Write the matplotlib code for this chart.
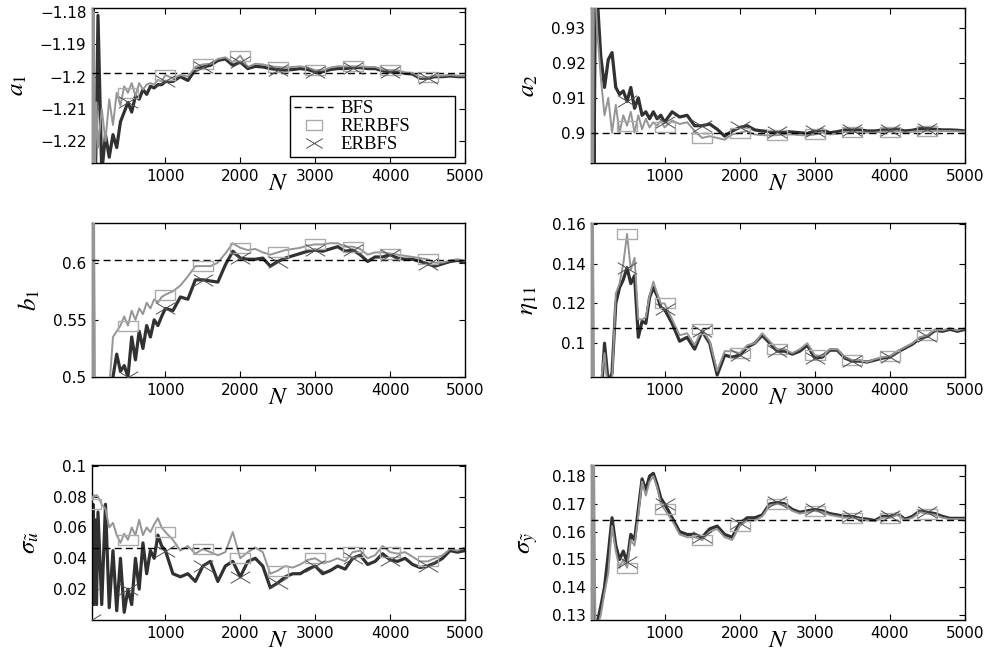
"""
Convergence of the BFS / RERBFS / ERBFS parameter estimates versus sample size N.
"""

import matplotlib
matplotlib.use('Agg')  # Use non-interactive backend
import matplotlib.pyplot as plt
from matplotlib.path import Path
from matplotlib.ticker import FuncFormatter
import numpy as np

# sample sizes at which the estimates were read off
n_samples = [5, 15, 25, 35, 45, 60, 80,
             100, 150, 200, 250, 300, 350, 400, 450, 500, 550, 600, 650, 700, 750, 800, 850, 900, 950,
             1000, 1100, 1200, 1300, 1400, 1500, 1600, 1700, 1800, 1900,
             2000, 2100, 2200, 2300, 2400, 2500, 2600, 2700, 2800, 2900,
             3000, 3100, 3200, 3300, 3400, 3500, 3600, 3700, 3800, 3900,
             4000, 4100, 4200, 4300, 4400, 4500, 4600, 4700, 4800, 4900,
             5000]
marker_n = [5, 500, 1000, 1500, 2000, 2500, 3000, 3500, 4000, 4500]

# a1
a1_bfs = -1.1988
a1_erbfs = [-1.24, -1.17, -1.24, -1.17, -1.24, -1.235, -1.215,
            -1.181, -1.23, -1.218, -1.225, -1.218, -1.222, -1.214, -1.211, -1.208, -1.211, -1.206, -1.207,
            -1.204, -1.2055, -1.203, -1.2035, -1.2025, -1.2025,
            -1.2015, -1.2015, -1.2, -1.2012, -1.1978, -1.197, -1.1965, -1.195, -1.1945, -1.1965,
            -1.1955, -1.1975, -1.1968, -1.197, -1.1975, -1.1978, -1.198, -1.1978, -1.1975, -1.1978,
            -1.1985, -1.1985, -1.1978, -1.1975, -1.1975, -1.1972, -1.1972, -1.1975, -1.1975, -1.1982,
            -1.1985, -1.1985, -1.199, -1.1992, -1.2005, -1.2005, -1.2, -1.2, -1.1998, -1.2,
            -1.2]
a1_rerbfs = [-1.17, -1.235, -1.172, -1.235, -1.18, -1.228, -1.208,
             -1.222, -1.21, -1.22, -1.207, -1.215, -1.205, -1.209, -1.203, -1.205, -1.202, -1.206, -1.202,
             -1.204, -1.2025, -1.202, -1.2025, -1.201, -1.2015,
             -1.1995, -1.2005, -1.1995, -1.2, -1.197, -1.1962, -1.196, -1.1945, -1.194, -1.1955,
             -1.1935, -1.197, -1.196, -1.1962, -1.1968, -1.197, -1.1972, -1.197, -1.1968, -1.1972,
             -1.198, -1.198, -1.1972, -1.1968, -1.1968, -1.1968, -1.1968, -1.197, -1.197, -1.1978,
             -1.198, -1.198, -1.1987, -1.1988, -1.2002, -1.2002, -1.1997, -1.1997, -1.1995, -1.1997,
             -1.1997]

# a2
a2_bfs = 0.9
a2_erbfs = [0.95, 0.88, 0.95, 0.88, 0.95, 0.89, 0.945,
            0.94, 0.922, 0.913, 0.921, 0.923, 0.913, 0.911, 0.912, 0.909, 0.913, 0.907, 0.91,
            0.905, 0.906, 0.904, 0.906, 0.904, 0.905,
            0.903, 0.906, 0.9045, 0.905, 0.902, 0.902, 0.9025, 0.901, 0.899, 0.9005,
            0.9015, 0.902, 0.9008, 0.9005, 0.9003, 0.9003, 0.9003, 0.9002, 0.9, 0.8998,
            0.9005, 0.9008, 0.9, 0.9003, 0.9008, 0.9008, 0.9008, 0.9005, 0.9005, 0.9008,
            0.9008, 0.901, 0.9005, 0.9007, 0.9012, 0.9012, 0.901, 0.9008, 0.9008, 0.9007,
            0.9005]
a2_rerbfs = [0.88, 0.95, 0.88, 0.95, 0.88, 0.95, 0.94,
             0.93, 0.916, 0.905, 0.91, 0.9, 0.908, 0.9, 0.905, 0.902, 0.906, 0.9, 0.905,
             0.901, 0.904, 0.9015, 0.903, 0.902, 0.9035,
             0.9015, 0.9035, 0.9025, 0.903, 0.9005, 0.8985, 0.899, 0.8985, 0.898, 0.8995,
             0.9, 0.9005, 0.8995, 0.8993, 0.8992, 0.8993, 0.8995, 0.8995, 0.8993, 0.8992,
             0.8995, 0.9, 0.8995, 0.8997, 0.9002, 0.9002, 0.9002, 0.9, 0.9, 0.9003,
             0.9003, 0.9005, 0.9, 0.9003, 0.9005, 0.9005, 0.9005, 0.9005, 0.9005, 0.9004,
             0.9003]

# b1
b1_bfs = 0.6024
b1_erbfs = [0.45, 0.7, 0.45, 0.7, 0.45, 0.45, 0.46,
            0.46, 0.47, 0.46, 0.48, 0.5, 0.52, 0.505, 0.51, 0.5, 0.535, 0.515, 0.54,
            0.525, 0.545, 0.535, 0.55, 0.545, 0.553,
            0.56, 0.558, 0.57, 0.568, 0.585, 0.585, 0.584, 0.583, 0.598, 0.61,
            0.604, 0.603, 0.603, 0.604, 0.597, 0.601, 0.604, 0.606, 0.608, 0.61,
            0.611, 0.61, 0.612, 0.614, 0.61, 0.611, 0.607, 0.601, 0.605, 0.605,
            0.607, 0.604, 0.603, 0.603, 0.601, 0.599, 0.597, 0.599, 0.601, 0.602,
            0.6]
b1_rerbfs = [0.7, 0.4, 0.7, 0.4, 0.7, 0.4, 0.45,
             0.46, 0.47, 0.48, 0.49, 0.535, 0.54, 0.545, 0.553, 0.545, 0.558, 0.55, 0.56,
             0.555, 0.565, 0.56, 0.568, 0.565, 0.57,
             0.572, 0.575, 0.58, 0.588, 0.597, 0.597, 0.597, 0.6, 0.608, 0.617,
             0.613, 0.611, 0.612, 0.609, 0.607, 0.609, 0.611, 0.612, 0.613, 0.615,
             0.616, 0.616, 0.617, 0.617, 0.614, 0.614, 0.612, 0.607, 0.609, 0.609,
             0.608, 0.607, 0.606, 0.605, 0.604, 0.603, 0.6, 0.6, 0.602, 0.603,
             0.6015]

# eta11
eta_bfs = 0.1079
eta_erbfs = [0.07, 0.17, 0.07, 0.17, 0.07, 0.07, 0.07,
             0.07, 0.07, 0.1, 0.08, 0.085, 0.12, 0.128, 0.132, 0.138, 0.13, 0.134, 0.103,
             0.111, 0.11, 0.123, 0.128, 0.124, 0.118,
             0.117, 0.11, 0.101, 0.103, 0.097, 0.106, 0.1, 0.084, 0.094, 0.093,
             0.094, 0.098, 0.1, 0.104, 0.1, 0.096, 0.096, 0.0945, 0.096, 0.099,
             0.0925, 0.093, 0.0965, 0.0965, 0.0925, 0.091, 0.091, 0.0905, 0.0915, 0.0925,
             0.093, 0.0955, 0.0975, 0.0995, 0.1025, 0.1035, 0.1065, 0.106, 0.107, 0.106,
             0.107]
eta_rerbfs = [0.17, 0.07, 0.17, 0.07, 0.17, 0.07, 0.075,
              0.078, 0.08, 0.095, 0.075, 0.08, 0.125, 0.13, 0.14, 0.155, 0.137, 0.143, 0.112,
              0.112, 0.113, 0.124, 0.131, 0.125, 0.12,
              0.12, 0.112, 0.104, 0.105, 0.099, 0.107, 0.101, 0.086, 0.096, 0.096,
              0.095, 0.099, 0.1, 0.105, 0.101, 0.097, 0.097, 0.095, 0.097, 0.1,
              0.094, 0.0935, 0.097, 0.097, 0.093, 0.0915, 0.0915, 0.0905, 0.092, 0.093,
              0.0935, 0.096, 0.098, 0.1, 0.103, 0.104, 0.107, 0.1065, 0.1075, 0.1065,
              0.1075]

# sigma u~
su_bfs = 0.0465
su_erbfs = [0.0, 0.07, 0.01, 0.075, 0.01, 0.065, 0.01,
            0.07, 0.01, 0.075, 0.008, 0.045, 0.006, 0.04, 0.005, 0.02, 0.01, 0.04, 0.02,
            0.05, 0.03, 0.045, 0.04, 0.055, 0.048,
            0.045, 0.03, 0.028, 0.03, 0.025, 0.035, 0.038, 0.025, 0.035, 0.038,
            0.028, 0.038, 0.04, 0.035, 0.021, 0.024, 0.028, 0.03, 0.03, 0.033,
            0.035, 0.03, 0.032, 0.035, 0.033, 0.04, 0.042, 0.036, 0.038, 0.043,
            0.039, 0.038, 0.04, 0.036, 0.034, 0.035, 0.037, 0.04, 0.045, 0.044,
            0.045]
su_rerbfs = [0.075, 0.078, 0.08, 0.079, 0.081, 0.08, 0.081,
             0.08, 0.075, 0.072, 0.06, 0.063, 0.055, 0.05, 0.056, 0.052, 0.06, 0.055, 0.065,
             0.055, 0.06, 0.057, 0.062, 0.066, 0.06,
             0.057, 0.052, 0.045, 0.048, 0.043, 0.046, 0.044, 0.042, 0.044, 0.057,
             0.04, 0.044, 0.047, 0.044, 0.03, 0.032, 0.035, 0.034, 0.036, 0.039,
             0.04, 0.037, 0.038, 0.04, 0.038, 0.044, 0.045, 0.04, 0.042, 0.048,
             0.044, 0.043, 0.044, 0.041, 0.038, 0.038, 0.04, 0.042, 0.046, 0.045,
             0.047]

# sigma y~
sy_bfs = 0.1642
sy_erbfs = [0.19, 0.12, 0.19, 0.12, 0.19, 0.12, 0.125,
            0.127, 0.133, 0.14, 0.152, 0.165, 0.155, 0.15, 0.153, 0.149, 0.159, 0.157, 0.168,
            0.179, 0.175, 0.18, 0.181, 0.177, 0.172,
            0.17, 0.165, 0.16, 0.159, 0.159, 0.158, 0.161, 0.162, 0.159, 0.158,
            0.163, 0.165, 0.165, 0.166, 0.17, 0.1705, 0.17, 0.168, 0.167, 0.1675,
            0.168, 0.1675, 0.1665, 0.166, 0.1655, 0.1655, 0.1648, 0.1645, 0.164, 0.1655,
            0.1655, 0.1665, 0.1645, 0.1655, 0.1675, 0.167, 0.1665, 0.1655, 0.1648, 0.1648,
            0.1648]
sy_rerbfs = [0.12, 0.19, 0.12, 0.19, 0.12, 0.19, 0.12,
             0.125, 0.13, 0.138, 0.145, 0.162, 0.153, 0.147, 0.15, 0.147, 0.157, 0.155, 0.166,
             0.178, 0.173, 0.178, 0.18, 0.176, 0.17,
             0.168, 0.164, 0.159, 0.158, 0.158, 0.157, 0.16, 0.161, 0.158, 0.157,
             0.162, 0.164, 0.164, 0.1655, 0.1695, 0.17, 0.1695, 0.1675, 0.1665, 0.167,
             0.1675, 0.167, 0.166, 0.1655, 0.165, 0.165, 0.1645, 0.164, 0.1638, 0.165,
             0.165, 0.166, 0.1642, 0.165, 0.167, 0.1665, 0.166, 0.165, 0.1645, 0.1645,
             0.1645]

DARK = '#313131'
GRAY = '#959595'
MARK_GRAY = '#ababab'

# flat rectangle and flat cross markers, like the stretched matlab ones
RECT = Path([(-1, -0.55), (1, -0.55), (1, 0.55), (-1, 0.55), (-1, -0.55)],
            [Path.MOVETO, Path.LINETO, Path.LINETO, Path.LINETO, Path.CLOSEPOLY])
CROSS = Path([(-1, -0.6), (1, 0.6), (-1, 0.6), (1, -0.6)],
             [Path.MOVETO, Path.LINETO, Path.MOVETO, Path.LINETO])

plt.rcParams['mathtext.fontset'] = 'stix'
plt.rcParams['font.family'] = 'DejaVu Sans'

W, H = 994, 652
fig = plt.figure(figsize=(W / 100, H / 100), dpi=100)


def px_axes(left, top, right, bottom):
    return fig.add_axes([left / W, 1 - bottom / H, (right - left) / W, (bottom - top) / H])


def fmt(v, _):
    return ('%g' % v).replace('-', '\u2212')


n_arr = np.array(n_samples)
mark_idx = [n_samples.index(n) for n in marker_n]

panels = [
    (px_axes(92, 8, 465, 163), r'$a_1$', a1_bfs, a1_rerbfs, a1_erbfs,
     (-1.2268, -1.1787), [-1.22, -1.21, -1.2, -1.19, -1.18]),
    (px_axes(591, 8, 965, 163), r'$a_2$', a2_bfs, a2_rerbfs, a2_erbfs,
     (0.8913, 0.9358), [0.9, 0.91, 0.92, 0.93]),
    (px_axes(92, 223, 465, 377), r'$b_1$', b1_bfs, b1_rerbfs, b1_erbfs,
     (0.5, 0.6347), [0.5, 0.55, 0.6]),
    (px_axes(591, 223, 965, 377), r'$\eta_{11}$', eta_bfs, eta_rerbfs, eta_erbfs,
     (0.083, 0.1605), [0.1, 0.12, 0.14, 0.16]),
    (px_axes(92, 465, 465, 620), r'$\sigma_{\tilde{u}}$', su_bfs, su_rerbfs, su_erbfs,
     (0.0, 0.1005), [0.02, 0.04, 0.06, 0.08, 0.1]),
    (px_axes(591, 465, 965, 620), r'$\sigma_{\tilde{y}}$', sy_bfs, sy_rerbfs, sy_erbfs,
     (0.1282, 0.184), [0.13, 0.14, 0.15, 0.16, 0.17, 0.18]),
]

for i, (ax, ylab, bfs, rer, erb, ylim, yticks) in enumerate(panels):
    rer = np.array(rer)
    erb = np.array(erb)
    ax.plot(n_arr, erb, color=DARK, lw=2.3, zorder=2)
    ax.plot(n_arr, rer, color=GRAY, lw=1.4, zorder=3)
    ax.axhline(bfs, color='black', lw=1.0, dashes=(5, 3), zorder=4, label='BFS')
    ax.plot(n_arr[mark_idx], rer[mark_idx], ls='none', marker=RECT, ms=14,
            mfc='none', mec=MARK_GRAY, mew=1.0, zorder=5, label='RERBFS')
    ax.plot(n_arr[mark_idx], erb[mark_idx], ls='none', marker=CROSS, ms=14,
            mfc='none', mec='#505050', mew=0.7, zorder=5, label='ERBFS')

    ax.set_xlim(20, 5000)
    ax.set_ylim(*ylim)
    ax.set_xticks([1000, 2000, 3000, 4000, 5000])
    ax.set_yticks(yticks)
    ax.yaxis.set_major_formatter(FuncFormatter(fmt))
    ax.tick_params(direction='in', top=True, right=True, length=4, width=0.8,
                   labelsize=11, pad=4)
    for sp in ax.spines.values():
        sp.set_linewidth(1.0)

    ax.set_xlabel(r'$N$', fontsize=18, labelpad=-9)
    ax.set_ylabel(ylab, fontsize=18, labelpad=8)

    if i == 0:
        # matlab-style legend box, wider than its text
        ax.legend(loc='lower left', bbox_to_anchor=(0.531, 0.039, 0.442, 0.387),
                  mode='expand', frameon=True, fancybox=False, edgecolor='black',
                  framealpha=1, prop={'family': 'Liberation Serif', 'size': 13.5},
                  handlelength=2.1, borderaxespad=0.0, labelspacing=0.05,
                  borderpad=0.2, handletextpad=0.4, markerscale=0.85)

plt.savefig('out.png', dpi=100)
plt.close(fig)
